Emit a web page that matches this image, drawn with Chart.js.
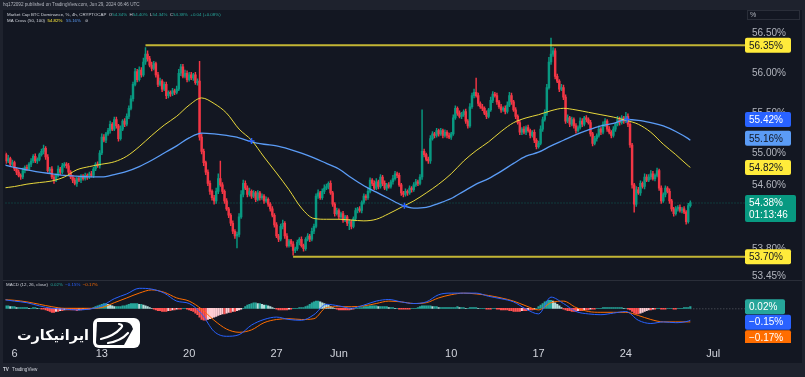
<!DOCTYPE html>
<html>
<head>
<meta charset="utf-8">
<script src="https://cdn.jsdelivr.net/npm/chart.js@4.4.1/dist/chart.umd.min.js"></script>
<style>
  html, body { margin: 0; padding: 0; background: #131722; overflow: hidden; }
  #wrap { width: 805px; height: 377px; }
</style>
</head>
<body>
<div id="wrap"><canvas id="chart" width="805" height="377"></canvas></div>
<script>
// 4h candles, BTC dominance (%), May 5 04:00 UTC -> Jun 29 04:00 UTC
const firstCandleDay = 5 + 4 / 24;   // x axis unit = day of May
const candleStep = 4 / 24;
const firstOpen = 55.02;
const closes = [
  54.98, 54.90, 54.93, 54.86, 54.88, 54.80, 54.76, 54.72, 54.70, 54.78,
  54.82, 54.80, 54.86, 54.90, 54.96, 54.90, 54.92, 54.98, 55.02, 55.06,
  54.95, 54.78, 54.80, 54.70, 54.66, 54.72, 54.80, 54.76, 54.84, 54.86,
  54.84, 54.76, 54.70, 54.66, 54.62, 54.68, 54.66, 54.71, 54.68, 54.72,
  54.70, 54.74, 54.72, 54.80, 54.86, 54.84, 55.00, 55.20, 55.16, 55.24,
  55.28, 55.36, 55.30, 55.42, 55.34, 55.18, 55.30, 55.40, 55.36, 55.46,
  55.56, 55.68, 55.86, 56.02, 55.92, 56.04, 55.98, 56.14, 56.24, 56.18,
  56.10, 56.06, 56.12, 55.98, 55.86, 55.90, 55.80, 55.86, 55.72, 55.76,
  55.74, 55.78, 55.76, 55.80, 56.00, 56.08, 55.96, 56.00, 55.92, 55.98,
  55.94, 55.98, 55.88, 55.90, 55.20, 55.02, 54.88, 54.76, 54.62, 54.52,
  54.44, 54.40, 54.52, 54.68, 54.60, 54.52, 54.40, 54.30, 54.22, 54.12,
  54.02, 53.96, 53.98, 54.20, 54.48, 54.62, 54.56, 54.48, 54.52, 54.46,
  54.50, 54.42, 54.50, 54.44, 54.46, 54.40, 54.42, 54.36, 54.30, 54.22,
  54.10, 53.96, 53.92, 54.08, 54.12, 53.96, 53.84, 53.90, 53.86, 53.78,
  53.80, 53.88, 53.92, 53.84, 53.80, 53.92, 53.96, 53.92, 54.02, 54.08,
  54.46, 54.50, 54.44, 54.52, 54.56, 54.58, 54.62, 54.50, 54.36, 54.24,
  54.28, 54.20, 54.24, 54.16, 54.20, 54.12, 54.14, 54.08, 54.18, 54.28,
  54.30, 54.28, 54.38, 54.46, 54.44, 54.52, 54.66, 54.62, 54.56, 54.64,
  54.58, 54.70, 54.62, 54.56, 54.60, 54.58, 54.64, 54.68, 54.74, 54.72,
  54.60, 54.50, 54.48, 54.52, 54.50, 54.56, 54.54, 54.60, 54.64, 54.62,
  54.70, 55.02, 54.98, 54.92, 54.90, 55.18, 55.24, 55.22, 55.28, 55.24,
  55.28, 55.22, 55.26, 55.22, 55.20, 55.24, 55.44, 55.56, 55.50, 55.46,
  55.48, 55.52, 55.40, 55.34, 55.58, 55.72, 55.76, 55.72, 55.62, 55.58,
  55.56, 55.50, 55.46, 55.54, 55.66, 55.74, 55.72, 55.64, 55.58, 55.54,
  55.56, 55.52, 55.60, 55.72, 55.64, 55.54, 55.46, 55.38, 55.26, 55.30,
  55.26, 55.32, 55.28, 55.22, 55.26, 55.16, 55.08, 55.12, 55.30, 55.42,
  55.50, 55.82, 56.14, 56.24, 56.28, 55.96, 55.90, 55.80, 55.82, 55.70,
  55.40, 55.44, 55.36, 55.42, 55.34, 55.28, 55.32, 55.40, 55.36, 55.44,
  55.42, 55.38, 55.24, 55.12, 55.18, 55.22, 55.30, 55.26, 55.36, 55.40,
  55.30, 55.26, 55.22, 55.30, 55.36, 55.42, 55.38, 55.44, 55.40, 55.46,
  55.36, 55.10, 54.60, 54.36, 54.54, 54.50, 54.62, 54.58, 54.70, 54.66,
  54.70, 54.74, 54.68, 54.72, 54.78, 54.56, 54.40, 54.48, 54.56, 54.52,
  54.40, 54.30, 54.24, 54.30, 54.32, 54.28, 54.30, 54.26, 54.14, 54.34, 54.38
];
// wick lengths above / below the body, in hundredths of a percent
const wickUp = [
  3,2,4,2,3,2,2,3,2,3, 2,3,2,3,2,3,2,2,3,4, 2,3,2,3,2,2,4,2,3,2, 2,3,2,2,3,2,3,2,2,3,
  2,2,3,2,2,3,3,4,3,2, 3,4,2,3,3,2,4,2,3,3, 3,4,3,4,3,4,3,5,8,4, 3,4,3,2,3,4,2,3,3,2,
  2,3,2,4,5,3,3,4,3,3, 3,2,3,3,25,4,3,2,3,3, 2,3,4,6,22,3,2,3,2,2, 3,2,3,4,5,4,3,3,4,2,
  3,2,3,2,3,2,3,2,2,3, 2,3,2,3,4,2,3,2,2,3, 2,3,2,3,2,2,3,2,4,3, 3,4,2,3,4,3,2,3,2,2,
  3,2,2,3,2,2,3,2,2,3, 2,3,2,3,2,4,3,2,3,4, 2,3,2,3,2,3,2,4,3,2, 3,2,2,3,2,3,2,3,3,2,
  3,52,3,2,3,4,3,2,3,2, 3,2,3,2,3,2,4,3,2,3, 3,2,3,2,4,3,4,18,3,2, 3,2,3,2,4,3,2,3,2,3,
  2,3,4,4,3,2,3,2,3,2, 3,2,3,2,2,3,2,3,4,3, 4,4,6,20,4,3,3,2,4,3, 3,4,2,3,2,3,2,4,3,2,
  3,2,3,2,3,2,4,2,3,3, 2,3,2,3,2,4,3,3,2,5, 3,2,2,2,4,3,3,2,4,3, 3,4,3,2,3,2,3,2,3,2,
  3,2,2,3,2,3,2,3,2,3,2
];
const wickDn = [
  2,3,2,3,2,2,3,2,3,2, 3,2,2,3,2,2,3,2,2,3, 3,2,3,2,4,2,2,3,2,2, 3,2,2,3,2,4,2,3,2,2,
  3,2,2,3,2,2,3,2,2,3, 2,3,2,2,3,3,2,2,3,2, 3,2,3,2,3,2,3,2,3,3, 2,3,2,3,3,2,3,2,4,3,
  3,2,3,2,2,3,2,2,3,2, 2,3,2,3,4,3,4,3,3,4, 3,4,3,3,2,3,3,2,3,3, 3,3,15,3,2,3,2,3,2,3,
  2,3,2,3,2,3,2,3,3,2, 3,2,3,2,3,3,2,2,3,6, 3,2,3,2,3,2,2,3,2,3, 2,3,2,2,3,2,3,2,3,3,
  2,3,2,3,2,3,8,3,2,3, 3,2,3,2,3,2,2,3,2,2, 3,2,3,2,3,2,2,3,2,3, 2,3,3,2,3,2,3,2,2,3,
  2,3,3,2,3,3,2,3,2,3, 2,3,2,3,2,3,2,2,3,2, 3,2,3,3,2,2,3,2,3,2, 3,2,3,2,2,3,2,3,2,3,
  2,3,2,2,3,2,3,2,3,3, 2,3,2,3,2,3,3,2,2,3, 2,3,2,3,3,3,2,3,2,3, 3,2,3,2,3,3,2,2,3,2,
  3,2,3,3,2,3,2,3,2,3, 3,2,3,2,3,2,3,2,3,2, 3,3,4,10,3,2,3,2,3,2, 2,3,2,3,2,3,3,2,3,2,
  3,3,3,2,3,2,3,2,3,2,2
];
// MACD histogram per candle, hundredths of a percent
const macdHist = [
  3,3,3,2,2,2,1,1,1,1, 1,1,0,0,1,1,0,0,-1,-1, -2,-3,-4,-5,-5,-4,-4,-3,-3,-2, -2,-2,-2,-2,-2,-3,-2,-2,-1,-1,
  -1,-1,0,1,2,3,4,5,6,6, 5,4,3,2,2,2,2,3,3,4, 5,6,6,6,6,5,5,4,3,2, 1,0,-1,-2,-3,-3,-4,-4,-4,-3,
  -3,-2,-2,-1,-1,-1,0,0,-1,-2, -3,-4,-6,-8,-11,-14,-15,-15,-14,-13, -12,-11,-10,-9,-8,-7,-7,-6,-5,-5, -4,-4,-3,-2,-1,0,2,4,5,6,
  7,7,6,6,5,4,4,3,2,1, 0,-1,-2,-2,-2,-2,-2,-1,-1,0, 0,0,1,1,1,2,3,5,7,8, 9,9,8,7,6,5,4,2,1,0,
  -1,-2,-2,-2,-2,-2,-2,-1,-1,0, 0,1,1,2,2,2,3,3,3,3, 2,2,2,2,2,1,1,1,0,0, -1,-1,-1,-1,-1,-1,0,0,0,1,
  2,3,3,3,3,3,2,2,2,1, 1,1,1,1,1,1,1,1,2,1, 1,1,0,0,1,1,1,1,0,0, 0,0,-1,-1,-1,0,0,-1,-1,-2,
  -2,-2,-2,-3,-3,-4,-4,-4,-4,-3, -3,-3,-2,-2,-2,-1,0,2,4,6, 8,9,10,10,9,7,5,3,1,-1, -2,-3,-3,-4,-4,-4,-3,-3,-3,-2,
  -2,-2,-1,-1,-1,0,0,0,1,1, 1,1,1,1,1,1,1,1,0,0, -1,-2,-4,-6,-7,-7,-6,-5,-4,-3, -2,-2,-1,-1,0,0,-1,-1,-1,0,
  0,0,-1,-1,0,0,0,1,1,1,2
];
// daily readings (May 5 .. Jun 29 00:00) plus the last candle
const ma50 = [
  54.56, 54.58, 54.61, 54.63, 54.65, 54.70, 54.79, 54.83, 54.86, 54.89,
  54.96, 55.08, 55.22, 55.35, 55.46, 55.60, 55.69, 55.62, 55.50, 55.30,
  55.16, 54.95, 54.75, 54.54, 54.31, 54.18, 54.17, 54.17, 54.16, 54.15,
  54.17, 54.24, 54.32, 54.40, 54.50, 54.61, 54.74, 54.90, 55.03, 55.14,
  55.27, 55.38, 55.44, 55.48, 55.53, 55.56, 55.54, 55.51, 55.48, 55.45,
  55.41, 55.36, 55.26, 55.11, 54.98, 54.84, 54.82
];
const ma100 = [
  54.86, 54.82, 54.79, 54.76, 54.74, 54.72, 54.71, 54.70, 54.70, 54.73,
  54.77, 54.83, 54.91, 55.00, 55.09, 55.19, 55.25, 55.24, 55.22, 55.19,
  55.14, 55.11, 55.09, 55.05, 55.00, 54.94, 54.87, 54.80, 54.69, 54.59,
  54.51, 54.43, 54.35, 54.31, 54.32, 54.37, 54.43, 54.52, 54.61, 54.68,
  54.77, 54.87, 54.96, 55.01, 55.09, 55.16, 55.23, 55.29, 55.34, 55.37,
  55.42, 55.41, 55.38, 55.34, 55.27, 55.18, 55.16
];
const macdLine = [
  0.11, 0.09, 0.07, 0.03, 0.00, -0.01, -0.02, -0.01, 0.03, 0.12,
  0.18, 0.25, 0.24, 0.19, 0.09, 0.06, -0.07, -0.29, -0.35, -0.33,
  -0.21, -0.14, -0.11, -0.14, -0.15, -0.08, 0.05, 0.03, 0.00, 0.04,
  0.09, 0.11, 0.08, 0.06, 0.08, 0.17, 0.19, 0.19, 0.19, 0.15,
  0.12, 0.08, -0.01, -0.07, 0.14, 0.06, -0.04, -0.07, -0.08, -0.06,
  -0.04, -0.15, -0.19, -0.17, -0.18, -0.16, -0.15
];
const signalLine = [
  0.11, 0.10, 0.08, 0.05, 0.02, 0.00, 0.00, 0.00, 0.01, 0.07,
  0.13, 0.19, 0.23, 0.20, 0.13, 0.09, -0.01, -0.15, -0.26, -0.30,
  -0.27, -0.18, -0.14, -0.13, -0.14, -0.13, 0.01, 0.02, 0.02, 0.03,
  0.06, 0.09, 0.08, 0.06, 0.07, 0.13, 0.17, 0.19, 0.18, 0.16,
  0.13, 0.09, 0.03, -0.02, 0.07, 0.09, 0.01, -0.04, -0.05, -0.05,
  -0.05, -0.09, -0.14, -0.17, -0.17, -0.17, -0.17
];
const crossDays = [25.0, 37.25, 55.1];
const crossValues = [55.15, 54.34, 55.42];
const levelValues = [56.35, 53.70];
const levelFrom = [16.5, 28.33];
const priceTicks = [56.5, 56.0, 55.5, 55.0, 54.6, 53.8, 53.45];
const dateTicks = [6, 13, 20, 27, 32, 41, 48, 55, 62];
const dateLabels = ['6', '13', '20', '27', 'Jun', '10', '17', '24', 'Jul'];

const X_MIN = 5.281, X_MAX = 64.227;
const UP = '#089981', DOWN = '#f23645';
const FONT = "'Liberation Sans', Arial, sans-serif";

// build candles
const lastDay = firstCandleDay + (closes.length - 1) * candleStep;
const wicks = [], bodies = [], candleColors = [];
closes.forEach((c, i) => {
  const o = i === 0 ? firstOpen : closes[i - 1];
  const x = firstCandleDay + i * candleStep;
  const hi = Math.max(o, c) + wickUp[i] / 100;
  const lo = Math.min(o, c) - wickDn[i] / 100;
  wicks.push({ x, y: [lo, hi] });
  bodies.push({ x, y: [o, c] });
  candleColors.push(c >= o ? UP : DOWN);
});
const dailyPoints = arr => arr.map((v, k) => ({ x: k < arr.length - 1 ? 5 + k : lastDay, y: v }));
const histData = macdHist.map((h, i) => ({ x: firstCandleDay + i * candleStep, y: h / 100 }));
const histColors = macdHist.map((h, i) => {
  const prev = i === 0 ? h : macdHist[i - 1];
  if (h >= 0) return h >= prev ? '#26a69a' : '#b2dfdb';
  return h <= prev ? '#ff5252' : '#ffcdd2';
});

const segs = (ctx, x, y, parts) => {
  parts.forEach(([t, col]) => {
    ctx.fillStyle = col;
    ctx.fillText(t, x, y);
    x += ctx.measureText(t).width;
  });
};

const tag = (ctx, y, text, bg, fg, w) => {
  ctx.fillStyle = bg;
  ctx.beginPath();
  ctx.roundRect(745, y - 7.5, w, 15, 2);
  ctx.fill();
  ctx.fillStyle = fg;
  ctx.fillText(text, 749, y + 0.5);
};

const noPad = s => { s.paddingTop = 0; s.paddingBottom = 0; };

const overlay = {
  id: 'overlay',
  beforeDraw(chart) {
    const { ctx } = chart;
    ctx.save();
    ctx.fillStyle = '#131722';
    ctx.fillRect(0, 0, 805, 377);
    ctx.restore();
  },
  beforeDatasetsDraw(chart) {
    const { ctx, chartArea, scales } = chart;
    ctx.save();
    // last price line
    const py = scales.y.getPixelForValue(closes[closes.length - 1]);
    ctx.strokeStyle = 'rgba(8,153,129,0.55)';
    ctx.setLineDash([1, 2]);
    ctx.lineWidth = 1;
    ctx.beginPath(); ctx.moveTo(chartArea.left, py + 0.5); ctx.lineTo(745, py + 0.5); ctx.stroke();
    // MACD zero price line
    const zy = scales.y2.getPixelForValue(0);
    ctx.strokeStyle = 'rgba(178,181,190,0.45)';
    ctx.beginPath(); ctx.moveTo(scales.x.getPixelForValue(lastDay), zy + 0.5); ctx.lineTo(745, zy + 0.5); ctx.stroke();
    ctx.restore();
  },
  afterDraw(chart) {
    const { ctx, scales } = chart;
    ctx.save();
    // frame
    ctx.fillStyle = '#1e222d';
    ctx.fillRect(0, 0, 805, 10);
    ctx.fillRect(0, 363, 805, 14);
    ctx.fillRect(0, 0, 3, 377);
    ctx.fillRect(802, 0, 3, 377);
    // pane separator
    ctx.fillStyle = '#2a2e39';
    ctx.fillRect(3, 280, 799, 1);

    ctx.textBaseline = 'middle';
    ctx.font = '4.6px ' + FONT;
    ctx.fillStyle = '#b2b5be';
    ctx.fillText('hq172092 published on TradingView.com, Jun 29, 2024 06:46 UTC', 3, 5);
    ctx.font = '4.4px ' + FONT;
    const teal = '#26a69a', grey = '#d1d4dc';
    segs(ctx, 7, 14.7, [
      ['Market Cap BTC Dominance, %, 4h, CRYPTOCAP  ', grey], ['O', grey], ['54.34%', teal],
      ['  H', grey], ['54.40%', teal], ['  L', grey], ['54.34%', teal], ['  C', grey], ['54.38%', teal],
      ['  +0.04 (+0.08%)', teal]
    ]);
    segs(ctx, 7, 20.3, [
      ['MA Cross (50, 100)  ', grey], ['54.82%', '#ffeb3b'], ['   ', grey], ['55.16%', '#5b9cf6'], ['   \u2298', grey]
    ]);
    segs(ctx, 6, 284.5, [
      ['MACD (12, 26, close)  ', grey], ['0.02%', teal], ['  \u22120.15%', '#2962ff'], ['  \u22120.17%', '#ff6d00']
    ]);
    ctx.font = 'bold 4.6px ' + FONT;
    segs(ctx, 3, 370, [['TV ', grey]]);
    ctx.font = '4.6px ' + FONT;
    segs(ctx, 12, 370, [['TradingView', grey]]);

    // % button
    ctx.strokeStyle = '#2a2e39';
    ctx.lineWidth = 1;
    ctx.strokeRect(747.5, 10.5, 52, 9);
    ctx.font = '7px ' + FONT;
    ctx.fillStyle = '#b2b5be';
    ctx.fillText('%', 750, 15.5);

    // horizontal level stubs into the price scale
    ctx.fillStyle = 'rgba(255,235,59,0.75)';
    levelValues.forEach(v => ctx.fillRect(741, scales.y.getPixelForValue(v) - 1, 4, 2));

    // price scale tags
    ctx.font = '10px ' + FONT;
    const Y = v => scales.y.getPixelForValue(v);
    tag(ctx, Y(levelValues[0]), '56.35%', '#ffeb3b', '#131722', 46);
    tag(ctx, Y(crossValues[2]), '55.42%', '#2962ff', '#ffffff', 46);
    tag(ctx, Y(ma100[ma100.length - 1]) - 2, '55.16%', '#5b9cf6', '#131722', 46);
    tag(ctx, Y(ma50[ma50.length - 1]), '54.82%', '#ffeb3b', '#131722', 46);
    tag(ctx, Y(levelValues[1]), '53.70%', '#ffeb3b', '#131722', 46);
    const ly = Y(closes[closes.length - 1]);
    ctx.fillStyle = UP;
    ctx.beginPath(); ctx.roundRect(745, ly - 7.5, 51, 27, 2); ctx.fill();
    ctx.fillStyle = '#ffffff';
    ctx.fillText('54.38%', 749, ly + 0.5);
    ctx.fillText('01:13:46', 749, ly + 13);

    // MACD tags, stacked downwards
    ctx.save();
    ctx.beginPath(); ctx.rect(740, 281, 65, 62); ctx.clip();
    let prev = -1e9;
    [[0.02, '0.02%', '#26a69a', 40], [macdLine[macdLine.length - 1], '\u22120.15%', '#2962ff', 46],
     [signalLine[signalLine.length - 1], '\u22120.17%', '#ff6d00', 46]].forEach(([v, t, bg, w]) => {
      let y = scales.y2.getPixelForValue(v);
      y = Math.max(y, prev + 15.5);
      prev = y;
      tag(ctx, y, t, bg, '#ffffff', w);
    });
    ctx.restore();

    // watermark
    const mark = '\u0627\u06cc\u0631\u0627\u0646\u06cc\u06a9\u0627\u0631\u062a';
    ctx.font = "bold 20px 'DejaVu Sans'";
    const size = 20 * 72 / ctx.measureText(mark).width;
    ctx.font = 'bold ' + size.toFixed(1) + "px 'DejaVu Sans'";
    ctx.fillStyle = '#ffffff';
    ctx.textAlign = 'right';
    ctx.textBaseline = 'alphabetic';
    ctx.fillText(mark, 89, 340);
    // logo tile
    ctx.beginPath(); ctx.roundRect(93, 318, 47, 30, 6); ctx.fill();
    ctx.fillStyle = '#131722';
    ctx.beginPath();
    ctx.moveTo(97, 322); ctx.lineTo(125, 322); ctx.quadraticCurveTo(131, 322, 133, 329);
    ctx.lineTo(124, 345); ctx.lineTo(99, 345); ctx.quadraticCurveTo(96, 345, 96, 342);
    ctx.closePath(); ctx.fill();
    ctx.strokeStyle = '#ffffff';
    ctx.lineWidth = 2.2;
    ctx.lineCap = 'round';
    ctx.beginPath(); ctx.moveTo(101, 339); ctx.quadraticCurveTo(114, 336, 121, 328);
    ctx.quadraticCurveTo(124, 325, 119, 324); ctx.stroke();
    ctx.beginPath(); ctx.moveTo(108, 343); ctx.quadraticCurveTo(121, 341, 128, 333); ctx.stroke();
    ctx.restore();
  }
};

const ctx = document.getElementById('chart').getContext('2d');
new Chart(ctx, {
  type: 'bar',
  data: {
    datasets: [
      { type: 'line', data: dailyPoints(ma50), borderColor: '#e8d83c', borderWidth: 1, pointRadius: 0,
        cubicInterpolationMode: 'monotone', yAxisID: 'y', order: 1 },
      { type: 'line', data: dailyPoints(ma100), borderColor: '#5b9cf6', borderWidth: 1.3, pointRadius: 0,
        cubicInterpolationMode: 'monotone', yAxisID: 'y', order: 1 },
      { type: 'scatter', data: crossDays.map((d, k) => ({ x: d, y: crossValues[k] })), pointStyle: 'cross',
        pointRadius: 3, borderColor: '#2962ff', borderWidth: 1.5, yAxisID: 'y', order: 0 },
      ...levelValues.map((v, k) => ({
        type: 'line', data: [{ x: levelFrom[k], y: v }, { x: X_MAX, y: v }], borderColor: 'rgba(255,235,59,0.75)',
        borderWidth: 2, pointRadius: 0, yAxisID: 'y', order: 1
      })),
      { data: bodies, backgroundColor: candleColors, barThickness: 1.8, minBarLength: 1, grouped: false,
        yAxisID: 'y', order: 2 },
      { data: wicks, backgroundColor: candleColors, barThickness: 0.8, grouped: false, yAxisID: 'y', order: 3 },
      { data: histData, backgroundColor: histColors, barThickness: 1.5, grouped: false, yAxisID: 'y2', order: 3 },
      { type: 'line', data: dailyPoints(macdLine), borderColor: '#2962ff', borderWidth: 1, pointRadius: 0,
        cubicInterpolationMode: 'monotone', yAxisID: 'y2', order: 1 },
      { type: 'line', data: dailyPoints(signalLine), borderColor: '#ff6d00', borderWidth: 1, pointRadius: 0,
        cubicInterpolationMode: 'monotone', yAxisID: 'y2', order: 1 }
    ]
  },
  options: {
    responsive: false,
    animation: false,
    events: [],
    layout: { padding: { top: 10, left: 3, right: 0, bottom: 14 } },
    plugins: { legend: { display: false }, tooltip: { enabled: false } },
    scales: {
      x: {
        type: 'linear', min: X_MIN, max: X_MAX, offset: false,
        grid: { display: false, drawTicks: false }, border: { display: false },
        afterBuildTicks: s => { s.ticks = dateTicks.map(v => ({ value: v })); },
        afterFit: s => { s.height = 20; s.paddingLeft = 0; s.paddingRight = 0; },
        ticks: { color: '#d1d4dc', font: { size: 11, family: FONT }, padding: 4, maxRotation: 0, autoSkip: false,
          callback: (v, i) => dateLabels[i] }
      },
      y: {
        position: 'right', stack: 'pane', stackWeight: 270, min: 53.409, max: 56.792,
        grid: { display: false, drawTicks: false }, border: { display: false },
        afterBuildTicks: s => { s.ticks = priceTicks.map(v => ({ value: v })); },
        afterFit: s => { s.width = 64; noPad(s); },
        ticks: { color: '#b2b5be', font: { size: 10, family: FONT }, padding: 11,
          callback: v => v.toFixed(2) + '%' }
      },
      y2: {
        position: 'right', stack: 'pane', stackWeight: 63, min: -0.434, max: 0.354,
        grid: { display: false, drawTicks: false }, border: { display: false },
        afterFit: s => { s.width = 64; noPad(s); },
        ticks: { display: false }
      }
    }
  },
  plugins: [overlay]
});
</script>
</body>
</html>
